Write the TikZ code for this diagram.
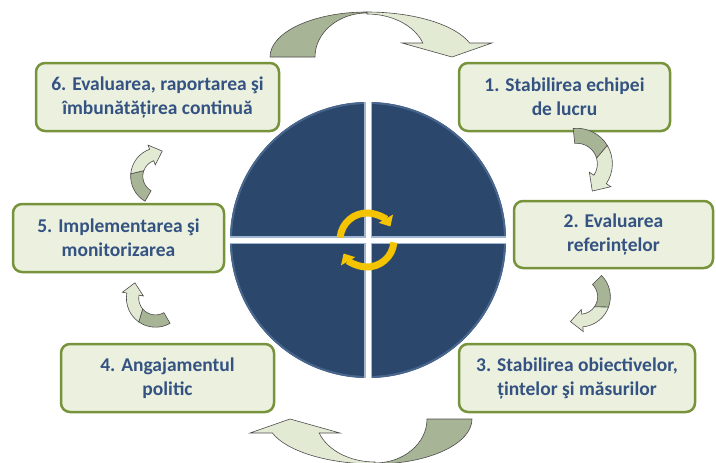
\documentclass[tikz,border=0pt]{standalone}
\usepackage{fontspec}
\setmainfont{Carlito}
\usetikzlibrary{arrows.meta}

\definecolor{boxfill}{RGB}{235,241,222}
\definecolor{boxline}{RGB}{119,147,60}
\definecolor{boxtext}{RGB}{52,82,130}
\definecolor{wheelblue}{RGB}{43,71,108}
\definecolor{wheelrim}{RGB}{72,102,142}
\definecolor{gapedge}{RGB}{160,182,210}
\definecolor{ribbondark}{RGB}{168,180,150}
\definecolor{ribbonlight}{RGB}{226,234,212}
\definecolor{turngold}{RGB}{244,196,0}

\tikzset{
  stepbox/.style={draw=boxline, fill=boxfill, line width=2.5pt, rounded corners=9pt,
    text=boxtext, align=center, inner sep=0pt,
    font=\fontsize{19.5}{24}\selectfont\bfseries},
  ribbonback/.style={fill=ribbondark, draw=black!70, line width=0.6pt},
  ribbonfront/.style={fill=ribbonlight, draw=black!70, line width=0.6pt},
  turnarrow/.style={turngold, line width=7pt, -{Triangle[width=16pt, length=9pt]}},
  % wide bent arrow (top and bottom)
  ribbon/.pic={
    \filldraw[ribbonback] (-97,0) arc[start angle=180, end angle=90, x radius=97, y radius=45]
      -- (0,44) arc[start angle=90, end angle=180, x radius=52, y radius=44] -- cycle;
    \filldraw[ribbonfront] (0,45) arc[start angle=90, end angle=18.1, x radius=108, y radius=45]
      -- (125,14) -- (85,0) -- (35,14) -- (55.8,14)
      arc[start angle=19, end angle=90, x radius=59, y radius=43] -- cycle;
  },
  % small hook arrow (between the steps)
  hook/.pic={
    \filldraw[ribbonback] (180:35.5) arc[start angle=180, end angle=115, radius=35.5]
      -- (100:20.5) arc[start angle=100, end angle=180, radius=20.5] -- cycle;
    \filldraw[ribbonfront] (115:35.5) arc[start angle=115, end angle=50, radius=35.5]
      -- (50:41) -- (28.72,12.45) -- (50:15) -- (50:20.5)
      arc[start angle=50, end angle=100, radius=20.5] -- cycle;
  },
}

\begin{document}
\begin{tikzpicture}[x=1pt, y=1pt]
	\useasboundingbox (0,0) rectangle (716,-463);

	% wheel
	\coordinate (c) at (368,-240);
	\fill[wheelblue] (c) circle[radius=138];
	\draw[wheelrim, line width=2pt] (c) circle[radius=137];
	\begin{scope}
		\clip (c) circle[radius=138];
		\draw[gapedge, line width=8pt] (368,-100) -- (368,-380) (228,-240) -- (508,-240);
		\draw[white, line width=5pt] (368,-100) -- (368,-380) (228,-240) -- (508,-240);
	\end{scope}

	% turning arrows
	\coordinate (t) at (367,-240);
	\draw[turnarrow] (t) ++(175:27) arc[start angle=175, end angle=30, radius=27];
	\draw[turnarrow] (t) ++(-5:27) arc[start angle=-5, end angle=-150, radius=27];

	% steps
	\node[stepbox, minimum width=243pt, minimum height=68pt] (b6) at (157.5,-97) {6. Evaluarea, raportarea şi\\îmbunătățirea continuă};
	\node[stepbox, minimum width=211pt, minimum height=68pt] (b1) at (564.5,-97) {1. Stabilirea echipei\\de lucru};
	\node[stepbox, minimum width=199pt, minimum height=67pt] (b2) at (613.5,-234.5) {2. Evaluarea\\referințelor};
	\node[stepbox, minimum width=211pt, minimum height=68pt] (b5) at (118.5,-238) {5. Implementarea şi\\monitorizarea};
	\node[stepbox, minimum width=213pt, minimum height=68pt] (b4) at (167.5,-378) {4. Angajamentul\\politic};
	\node[stepbox, minimum width=236pt, minimum height=68pt] (b3) at (577,-378) {3. Stabilirea obiectivelor,\\țintelor şi măsurilor};

	% bent arrows
	\pic at (367,-57) {ribbon};
	\pic[rotate=180] at (375,-419) {ribbon};
	\pic[rotate=-84] at (576.9,-163.8) {hook};
	\pic[rotate=-135, scale=0.85] at (580.2,-296.8) {hook};
	\pic[rotate=120, scale=0.82] at (155.5,-298.1) {hook};
	\pic[rotate=60, scale=0.81] at (159.4,-176.3) {hook};

\end{tikzpicture}
\end{document}
